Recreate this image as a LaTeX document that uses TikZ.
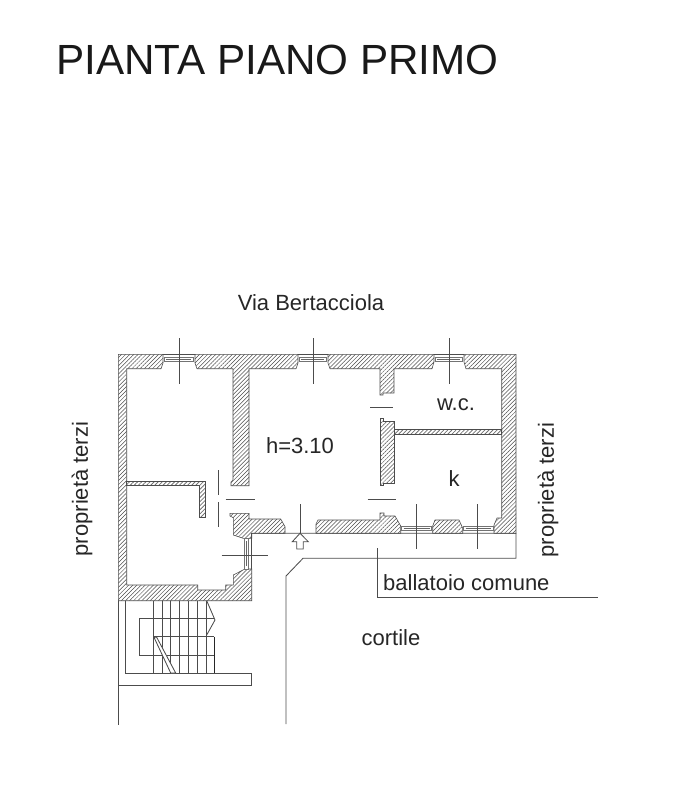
\documentclass[tikz,border=0pt]{standalone}
\usepackage{fontspec}
\setmainfont{Liberation Sans}
\usetikzlibrary{patterns.meta}
\tikzset{
  wall/.style={draw=black!70, line width=0.6pt, pattern={Lines[angle=45,distance=2.9pt,line width=0.5pt]}, pattern color=black!70},
  thin wall/.style={draw=black!70, line width=0.6pt, pattern={Lines[angle=45,distance=2.9pt,line width=0.8pt]}, pattern color=black!55},
  outline/.style={draw=black!70, line width=0.85pt},
  glass/.style={draw=black!55, line width=0.5pt, fill=white},
  pane/.style={draw=black!60, line width=1.3pt},
  label/.style={inner sep=0pt, font=\fontsize{22}{24}\selectfont, text=black!85}
}
\begin{document}
\begin{tikzpicture}[x=1pt,y=-1pt]
  \useasboundingbox (0,0) rectangle (684,800);
  % Walls
  \draw[wall] (118.3,354.3) -- (163,354.3) -- (163,363) -- (161,368.7) -- (126.7,368.7) -- (126.7,585) -- (197.7,585) -- (197.7,590) -- (225.7,590) -- (225.7,585) -- (233.3,585) -- (233.3,575) -- (245,569) -- (251.7,569) -- (251.7,600.7) -- (118.3,600.7) -- cycle;
  \draw[wall] (195,354.3) -- (195,363) -- (197,368.7) -- (233,368.7) -- (233,480) -- (231,482) -- (231,485.7) -- (249,485.7) -- (249,368.7) -- (296,368.7) -- (298,363) -- (298,354.3) -- cycle;
  \draw[wall] (328,354.3) -- (328,363) -- (330,368.7) -- (380,368.7) -- (380,395) -- (383,395) -- (383,393) -- (394,393) -- (394,368.7) -- (432,368.7) -- (434,362) -- (434,354.3) -- cycle;
  \draw[wall] (464,354.3) -- (464,362) -- (466,368.7) -- (501.7,368.7) -- (501.7,518) -- (497,518) -- (494,525) -- (494,533.3) -- (516,533.3) -- (516,354.3) -- cycle;
  \draw[wall] (380,418) -- (383,418) -- (383,421) -- (394,421) -- (394,483) -- (383,483) -- (383,485) -- (380,485) -- cycle;
  \draw[wall] (230,513.3) -- (249,513.3) -- (249,519) -- (280.7,519) -- (285,526.7) -- (285,533.3) -- (251.7,533.3) -- (251.7,538.3) -- (243.3,538.3) -- (233.3,535) -- (233.3,517.7) -- (230,516) -- cycle;
  \draw[wall] (316,533.3) -- (316,524) -- (318,520) -- (380,520) -- (380,513) -- (384,513) -- (384,516) -- (395,516) -- (400.7,526) -- (400.7,533.3) -- cycle;
  \draw[wall] (432.7,533.3) -- (432.7,526) -- (435,520) -- (459,520) -- (462.7,528) -- (462.7,533.3) -- cycle;
  \draw[thin wall] (394,429) rectangle (501.7,434);
  \draw[thin wall] (126.7,481.7) -- (205.7,481.7) -- (205.7,517) -- (199.3,517) -- (199.3,485.7) -- (126.7,485.7) -- cycle;
  % Windows
  \foreach \a/\b in {163/195,298/328,434/464} {
    \draw[outline] (\a,354.3) -- (\b,354.3);
    \draw[glass] (\a+1,357.7) rectangle (\b-2,361.7);
    \draw[pane] (\a+3,359.7) -- (\b-4,359.7);
  }
  \foreach \a/\b in {400.7/432.7,462.7/494} {
    \draw[glass] (\a+1,526.7) rectangle (\b-1,530.7);
    \draw[pane] (\a+3,528.7) -- (\b-3,528.7);
  }
  \draw[glass] (244.7,538.3) rectangle (248.7,569);
  \draw[pane] (246.7,541) -- (246.7,566);
  \draw[outline] (251.7,533.3) -- (251.7,569);
  % Section marks
  \foreach \x in {179.7,313.3,449.3} {
    \draw[outline] (\x,338) -- (\x,384);
  }
  \foreach \x in {416,477.7} {
    \draw[outline] (\x,504) -- (\x,549.3);
  }
  \draw[outline] (300,504) -- (300,533.3);
  \draw[outline] (221.7,555) -- (267.7,555);
  \draw[outline] (218.3,470) -- (218.3,495);
  \draw[outline] (218.3,502.3) -- (218.3,527.3);
  \draw[outline] (225.7,499) -- (255,499);
  \draw[outline] (370,407.3) -- (393.3,407.3);
  \draw[outline] (367.7,499.3) -- (396,499.3);
  % Entrance arrow
  \draw[outline] (300,533.3) -- (308.3,541.7) -- (303.2,541.7) -- (303.2,549) -- (296.8,549) -- (296.8,541.7) -- (292.3,541.7) -- cycle;
  % Balcony
  \draw[outline] (251.7,533.3) -- (516,533.3) -- (516,558.3) -- (303,558.3) -- (286,576) -- (286,724);
  \draw[outline] (377.7,548) -- (377.7,597.7) -- (598,597.7);
  % Stairs
  \draw[outline] (118.3,600.7) -- (118.3,725);
  \draw[outline] (125,600.7) -- (125,673) -- (251.7,673) -- (251.7,685) -- (118.3,685);
  \foreach \x in {153.7,162,170.7,179.7,188.7,197.7,206.7} {
    \draw[outline] (\x,600.7) -- (\x,673);
  }
  \draw[outline] (214.3,618.3) -- (139,618.3) -- (139,655.3) -- (214.3,655.3);
  \draw[outline] (153.7,636.7) -- (214.3,636.7);
  \draw[black!85, line width=1.2pt] (214.3,636.7) -- (214.3,673);
  \draw[outline, fill=white] (154,637.3) -- (156.7,637.3) -- (175.7,673) -- (170.7,673) -- cycle;
  \draw[outline] (206.7,600.7) -- (215,620) -- (206.7,635);
  % Labels
  \node[inner sep=0pt, anchor=west, font=\fontsize{42.2}{44}\selectfont, text=black!90] (title) at (56,59.5) {PIANTA PIANO PRIMO};
  \node[label] (street) at (311,303) {Via Bertacciola};
  \node[label] (height) at (300,446) {h=3.10};
  \node[label] (wc) at (456,405) {w.c.};
  \node[label] (kitchen) at (454,479) {k};
  \node[label, rotate=90] (thirdleft) at (82,489) {proprietà terzi};
  \node[label, rotate=90] (thirdright) at (548,490) {proprietà terzi};
  \node[label, anchor=west] (gallery) at (383,583) {ballatoio comune};
  \node[label] (yard) at (391,638) {cortile};
\end{tikzpicture}
\end{document}
